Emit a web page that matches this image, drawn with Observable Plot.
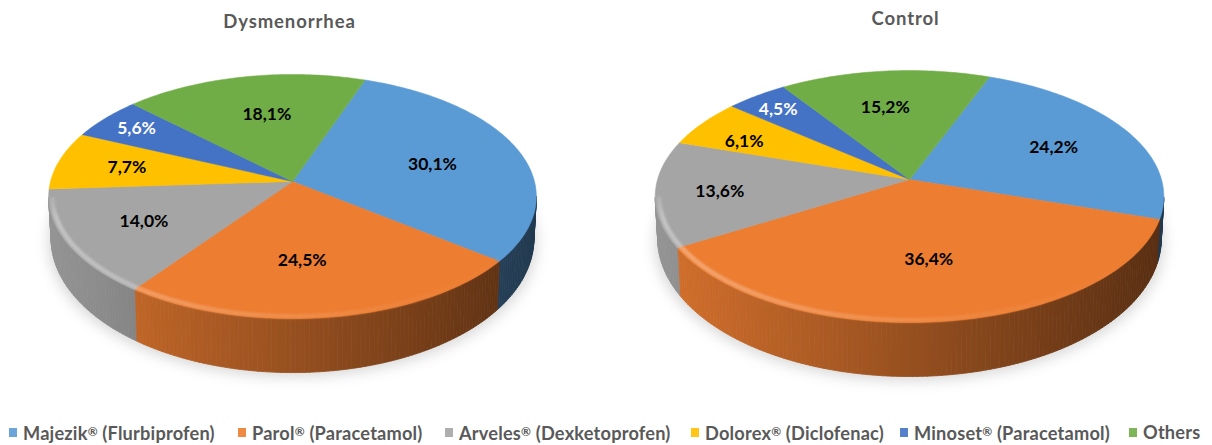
<!DOCTYPE html>
<html><head><meta charset="utf-8">
<script src="https://cdn.jsdelivr.net/npm/d3@7"></script>
<script src="https://cdn.jsdelivr.net/npm/@observablehq/plot@0.6"></script>
<style>
html,body{margin:0;padding:0;background:#fff;width:1212px;height:445px;overflow:hidden}
svg{display:block}
.ttl text{letter-spacing:.9px}
#legend{position:relative;height:35px;width:1212px;font:700 18.2px Lato,sans-serif;color:#595959;letter-spacing:.2px}
#legend span.i{position:absolute;top:11px;white-space:nowrap;line-height:22px}
#legend i{position:absolute;width:8px;height:9px;top:7px;left:-14px;display:block;opacity:.9}
#legend b{font-size:12px;font-weight:700;vertical-align:4px}
</style></head><body>
<div id="chart"></div><div id="legend"></div>
<script>
const categories = ["Majezik® (Flurbiprofen)","Parol® (Paracetamol)","Arveles® (Dexketoprofen)","Dolorex® (Diclofenac)","Minoset® (Paracetamol)","Others"];
const dysmenorrhea = [30.1,24.5,14.0,7.7,5.6,18.1];
const control = [24.2,36.4,13.6,6.1,4.5,15.2];
const colors = ["#5b9bd5","#ed7d31","#a5a5a5","#ffc000","#4472c4","#70ad47"];
const labelColors = ["#000","#000","#000","#000","#fff","#000"];

// pie placement and perspective
const pies = [
 {title:"Dysmenorrhea",values:dysmenorrhea,cx:292,cy:181,rx:242,ry:120.2,k:.123,start:19.5,titleX:289,titleY:22,
  nudge:[[-1,3],[-13,-1],[-12,3],[-20,-1],[-37,-13],[6,0]]},
 {title:"Control",values:control,cx:909,cy:179,rx:252,ry:123.7,k:.135,start:20.9,titleX:905,titleY:19,
  nudge:[[8,0],[0,-3],[-33,3],[-34,-2],[-33,-16],[-8,-2]]}
];
const legendLeft = [23,252,459,705,914,1143];

const rad = d => d*Math.PI/180;
function proj(p,deg,f=1){
  const u=Math.sin(rad(deg))*f, v=Math.cos(rad(deg))*f, w=1+p.k*v;
  return [p.cx+p.rx*u/w, p.cy-p.ry*v/w];
}
function mix(c,t,f){
  const q=d3.rgb(c);
  const g=x=>Math.round((x*f)*(1-t)+255*t);
  return `rgb(${g(q.r)},${g(q.g)},${g(q.b)})`;
}
const depth = deg => 40-14*Math.cos(rad(deg));
const shadow=[],faces=[],sides=[],rims=[],labels=[],titles=[];
pies.forEach((p,pi)=>{
  titles.push({x:p.titleX,y:p.titleY,t:p.title});
  const left=p.cx-p.rx*1.01,w=p.rx*2.02;
  for(let a=0;a<360;a+=3){
    const [x,y]=proj(p,a);
    shadow.push({x,y:y+depth(a)+4,z:"s"+pi});
  }
  let ang=p.start;
  p.values.forEach((val,i)=>{
    const sweep=val*3.6, a0=ang, a1=ang+sweep, id=`${pi}-${i}`;
    const c0=proj(p,a0,0);
    faces.push({x:c0[0],y:c0[1],z:id,fill:colors[i]});
    const n=Math.ceil(sweep);
    for(let j=0;j<=n;j++){
      const a=a0+sweep*j/n,[x,y]=proj(p,a);
      faces.push({x,y,z:id,fill:colors[i]});
      if(j<n){
        const b=a0+sweep*(j+1)/n,[x2,y2]=proj(p,b);
        const mid=(a+b)/2;
        if(Math.cos(rad(mid))>-p.k) continue;
        const t=((x+x2)/2-left)/w, f=.9-.53*t, c=mix(colors[i],0,f), s=.99;
        const sid=`${id}-${j}`;
        [[x,y,a],[x2,y2,b]].concat([[x2,y2,b],[x,y,a]].map(q=>[p.cx+(q[0]-p.cx)*s,q[1]+depth(q[2]),q[2]])).forEach(q=>
          sides.push({x:q[0],y:q[1],z:sid,fill:c}));
        const m=mid%360;
        if(m>95&&m<268){
          const [r1x,r1y]=proj(p,a,.985),[r2x,r2y]=proj(p,b,.985);
          const h=Math.max(0,.36*Math.pow(1-t,1.5)*Math.min(1,(268-m)/15));
          const sc=mix(colors[i],h,1);
          rims.push({x:r1x,y:r1y,z:sid,stroke:sc},{x:r2x,y:r2y,z:sid,stroke:sc});
        }
      }
    }
    const [lx,ly]=proj(p,(a0+a1)/2,.62);
    labels.push({x:lx+p.nudge[i][0],y:ly+p.nudge[i][1],t:val.toFixed(1).replace(".",","),fill:labelColors[i]});
    ang=a1;
  });
});

const closed={x:"x",y:"y",z:"z",curve:"linear-closed"};
const chart=Plot.plot({
  width:1212,height:410,margin:0,
  x:{domain:[0,1212],range:[0,1212],axis:null},
  y:{domain:[0,410],range:[0,410],axis:null},
  color:{type:"identity"},
  style:{background:"#fff"},
  marks:[
    Plot.line(shadow,{...closed,fill:"#000",fillOpacity:.16,stroke:"none",imageFilter:"blur(7px)"}),
    Plot.line(sides,{...closed,fill:"fill",stroke:"fill",strokeWidth:.8}),
    Plot.line(faces,{...closed,fill:"fill",stroke:"fill",strokeWidth:.5}),
    Plot.line(rims,{x:"x",y:"y",z:"z",stroke:"stroke",strokeWidth:4.5,strokeLinecap:"butt",imageFilter:"blur(1px)"}),
    Plot.text(labels,{x:"x",y:"y",text:d=>d.t+"%",fill:"fill",fontSize:17.5,fontWeight:700,fontFamily:"Lato"}),
    Plot.text(titles,{x:"x",y:"y",text:"t",fill:"#595959",fontSize:18.5,fontWeight:700,fontFamily:"Lato",className:"ttl"})
  ]
});
document.getElementById("chart").append(chart);
const lg=document.getElementById("legend");
categories.forEach((c,i)=>{
  const s=document.createElement("span");s.className="i";s.style.left=legendLeft[i]+"px";
  c.split("®").forEach((part,k)=>{
    if(k){const b=document.createElement("b");b.textContent="®";s.append(b);}
    s.append(part);
  });
  const m=document.createElement("i");m.style.background=colors[i];s.prepend(m);lg.append(s);
});
</script></body></html>
